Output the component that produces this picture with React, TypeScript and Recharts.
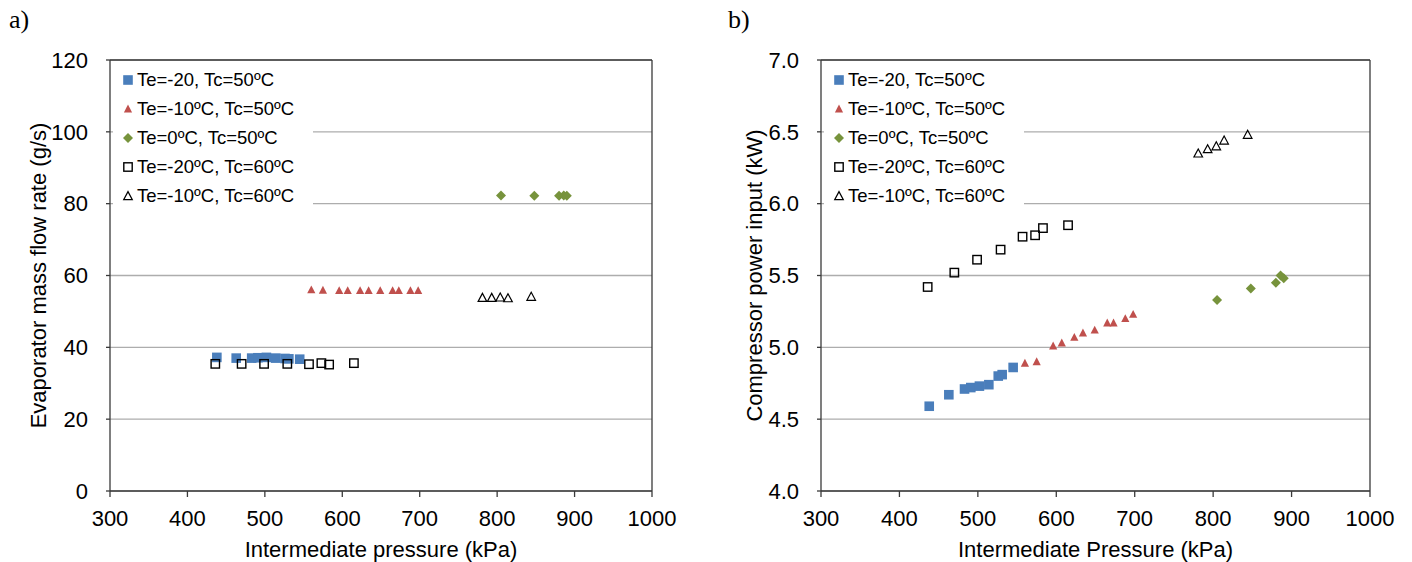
import React from 'react';
import { ScatterChart, Scatter, XAxis, YAxis, CartesianGrid, ReferenceLine, Legend } from 'recharts';

// Ticks
const PRESSURE_TICKS = [300, 400, 500, 600, 700, 800, 900, 1000];
const FLOW_TICKS = [0, 20, 40, 60, 80, 100, 120];
const POWER_TICKS = [4.0, 4.5, 5.0, 5.5, 6.0, 6.5, 7.0];

const SERIES_NAMES = [
  'Te=-20, Tc=50ºC',
  'Te=-10ºC, Tc=50ºC',
  'Te=0ºC, Tc=50ºC',
  'Te=-20ºC, Tc=60ºC',
  'Te=-10ºC, Tc=60ºC',
];

// intermediate pressure (kPa), same runs in both panels
const P_M20_TC50 = [438, 463, 483, 491, 502, 514, 526, 531, 545];
const P_M10_TC50 = [560, 575, 596, 607, 623, 634, 649, 665, 673, 688, 698];
const P_0_TC50 = [805, 848, 880, 886, 890];
const P_M20_TC60 = [436, 470, 499, 529, 557, 573, 583, 615];
const P_M10_TC60 = [781, 793, 804, 814, 844];

// a) evaporator mass flow rate (g/s)
const FLOW_M20_TC50 = [37.2, 37.0, 37.0, 37.1, 37.2, 37.0, 36.9, 36.8, 36.7];
const FLOW_M10_TC50 = [56.0, 55.9, 55.8, 55.8, 55.8, 55.8, 55.8, 55.8, 55.8, 55.8, 55.8];
const FLOW_0_TC50 = [82.3, 82.2, 82.2, 82.3, 82.2];
const FLOW_M20_TC60 = [35.4, 35.4, 35.4, 35.4, 35.3, 35.6, 35.2, 35.6];
const FLOW_M10_TC60 = [53.8, 53.8, 53.9, 53.7, 54.1];

// b) compressor power input (kW)
const POWER_M20_TC50 = [4.59, 4.67, 4.71, 4.72, 4.73, 4.74, 4.8, 4.81, 4.86];
const POWER_M10_TC50 = [4.89, 4.9, 5.01, 5.03, 5.07, 5.1, 5.12, 5.17, 5.17, 5.2, 5.23];
const POWER_0_TC50 = [5.33, 5.41, 5.45, 5.5, 5.48];
const POWER_M20_TC60 = [5.42, 5.52, 5.61, 5.68, 5.77, 5.78, 5.83, 5.85];
const POWER_M10_TC60 = [6.35, 6.38, 6.4, 6.44, 6.48];

const PRESSURES = [P_M20_TC50, P_M10_TC50, P_0_TC50, P_M20_TC60, P_M10_TC60];
const FLOWS = [FLOW_M20_TC50, FLOW_M10_TC50, FLOW_0_TC50, FLOW_M20_TC60, FLOW_M10_TC60];
const POWERS = [POWER_M20_TC50, POWER_M10_TC50, POWER_0_TC50, POWER_M20_TC60, POWER_M10_TC60];

const KINDS = ['square', 'triangle', 'diamond', 'hsquare', 'htriangle'];
const COLORS = ['#4a7ebb', '#c0504d', '#77933c', '#000000', '#000000'];

const H = 562;
const AXIS = '#3a3a3a';
const GRID = '#adadad';
const FONT = '"Liberation Sans", Arial, sans-serif';

function Marker({ kind, cx, cy, color }: { kind: string; cx: number; cy: number; color: string }) {
  if (cx == null || cy == null) return null;
  switch (kind) {
    case 'square':
      return <rect x={cx - 4.8} y={cy - 4.8} width={9.6} height={9.6} fill={color} />;
    case 'triangle':
      return <path d={`M${cx},${cy - 4.4}L${cx + 4.1},${cy + 3.5}L${cx - 4.1},${cy + 3.5}Z`} fill={color} />;
    case 'diamond':
      return <path d={`M${cx},${cy - 5}L${cx + 5},${cy}L${cx},${cy + 5}L${cx - 5},${cy}Z`} fill={color} />;
    case 'hsquare':
      return <rect x={cx - 4.2} y={cy - 4.2} width={8.4} height={8.4} fill="none" stroke={color} strokeWidth={1.4} />;
    default:
      return (
        <path
          d={`M${cx},${cy - 4.4}L${cx + 4.3},${cy + 3.6}L${cx - 4.3},${cy + 3.6}Z`}
          fill="none"
          stroke={color}
          strokeWidth={1.2}
        />
      );
  }
}

function LegendBox() {
  return (
    <div style={{ background: '#fff', paddingTop: 1, fontFamily: FONT }}>
      {SERIES_NAMES.map((name, i) => (
        <div key={name} style={{ height: 29, display: 'flex', alignItems: 'center' }}>
          <svg width={14} height={14} style={{ marginLeft: 7.5, marginRight: 2.5 }}>
            <Marker kind={KINDS[i]} cx={7} cy={7} color={COLORS[i]} />
          </svg>
          <span style={{ fontSize: 18.5, color: '#000', whiteSpace: 'nowrap' }}>{name}</span>
        </div>
      ))}
    </div>
  );
}

type PanelProps = {
  chartWidth: number;
  axisWidth: number;
  plotRight: number;
  yDomain: [number, number];
  yTicks: number[];
  yFormat: (v: number) => string;
  yTitle: string;
  yTitleX: number;
  xTitle: string;
  values: number[][];
};

function Panel({ chartWidth, axisWidth, plotRight, yDomain, yTicks, yFormat, yTitle, yTitleX, xTitle, values }: PanelProps) {
  const tickStyle = { fontSize: 22, fill: '#000', fontFamily: FONT };
  return (
    <ScatterChart width={chartWidth} height={H} margin={{ top: 60, right: chartWidth - plotRight, bottom: 0, left: 0 }}>
      <CartesianGrid vertical={false} stroke={GRID} strokeWidth={1.3} />
      <XAxis
        type="number"
        dataKey="x"
        domain={[300, 1000]}
        ticks={PRESSURE_TICKS}
        height={71}
        tick={tickStyle}
        tickSize={6}
        tickMargin={13}
        axisLine={{ stroke: AXIS, strokeWidth: 1.3 }}
        tickLine={{ stroke: AXIS, strokeWidth: 1.3 }}
        label={{
          content: ({ viewBox }: any) => (
            <text
              x={viewBox.x + viewBox.width / 2}
              y={viewBox.y + 58}
              textAnchor="middle"
              dominantBaseline="central"
              fontSize={22}
              fontFamily={FONT}
              fill="#000"
            >
              {xTitle}
            </text>
          ),
        }}
      />
      <YAxis
        type="number"
        dataKey="y"
        domain={yDomain}
        ticks={yTicks}
        width={axisWidth}
        tick={tickStyle}
        tickFormatter={yFormat}
        tickSize={4}
        tickMargin={18}
        axisLine={{ stroke: AXIS, strokeWidth: 1.3 }}
        tickLine={{ stroke: AXIS, strokeWidth: 1.3 }}
        label={{
          content: ({ viewBox }: any) => {
            const cx = viewBox.x + yTitleX;
            const cy = viewBox.y + viewBox.height / 2;
            return (
              <text
                x={cx}
                y={cy}
                transform={`rotate(-90 ${cx} ${cy})`}
                textAnchor="middle"
                dominantBaseline="central"
                fontSize={22}
                fontFamily={FONT}
                fill="#000"
              >
                {yTitle}
              </text>
            );
          },
        }}
      />
      <ReferenceLine x={1000} stroke={AXIS} strokeWidth={1.3} />
      <ReferenceLine y={yDomain[1]} stroke={AXIS} strokeWidth={1.3} />
      {SERIES_NAMES.map((name, i) => (
        <Scatter
          key={name}
          name={name}
          data={PRESSURES[i].map((x, j) => ({ x, y: values[i][j] }))}
          fill={COLORS[i]}
          isAnimationActive={false}
          shape={(p: any) => <Marker kind={KINDS[i]} cx={p.cx} cy={p.cy} color={COLORS[i]} />}
        />
      ))}
      <Legend
        layout="vertical"
        align="center"
        verticalAlign="middle"
        content={() => <LegendBox />}
        wrapperStyle={{ left: axisWidth + 3, top: 64, width: 200, height: 146 }}
      />
    </ScatterChart>
  );
}

export default function App() {
  return (
    <div style={{ position: 'relative', width: 1412, height: H, background: '#fff', fontFamily: FONT, overflow: 'hidden' }}>
      <style>{'body{margin:0}'}</style>
      <div style={{ position: 'absolute', left: 0, top: 0 }}>
        <Panel
          chartWidth={690}
          axisWidth={110}
          plotRight={652}
          yDomain={[0, 120]}
          yTicks={FLOW_TICKS}
          yFormat={(v) => String(v)}
          yTitle="Evaporator mass flow rate (g/s)"
          yTitleX={38}
          xTitle="Intermediate pressure (kPa)"
          values={FLOWS}
        />
      </div>
      <div style={{ position: 'absolute', left: 700, top: 0 }}>
        <Panel
          chartWidth={712}
          axisWidth={121}
          plotRight={670}
          yDomain={[4, 7]}
          yTicks={POWER_TICKS}
          yFormat={(v) => v.toFixed(1)}
          yTitle="Compressor power input (kW)"
          yTitleX={54}
          xTitle="Intermediate Pressure (kPa)"
          values={POWERS}
        />
      </div>
      <div style={{ position: 'absolute', left: 9, top: 5, fontFamily: '"Liberation Serif", serif', fontSize: 26 }}>a)</div>
      <div style={{ position: 'absolute', left: 728, top: 5, fontFamily: '"Liberation Serif", serif', fontSize: 26 }}>b)</div>
    </div>
  );
}
